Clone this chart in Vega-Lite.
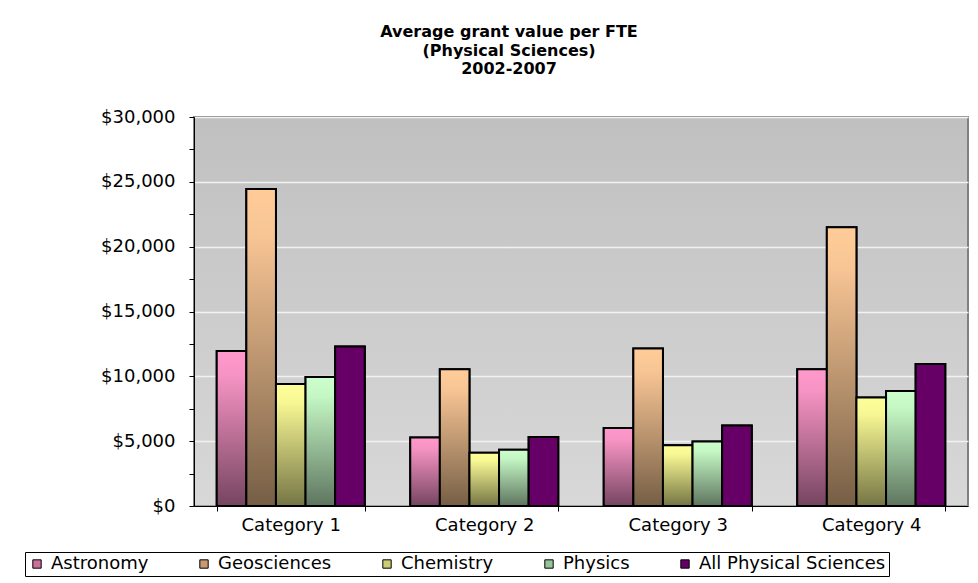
{
  "$schema": "https://vega.github.io/schema/vega-lite/v6.json",
  "autosize": {"type": "none"},
  "width": 774,
  "height": 389,
  "padding": {"left": 194, "top": 117, "right": 10, "bottom": 77},
  "background": "white",
  "title": {
    "text": ["Average grant value per FTE", "(Physical Sciences)", "2002-2007"],
    "font": "DejaVu Sans",
    "fontSize": 16,
    "fontWeight": "bold",
    "lineHeight": 18.5,
    "anchor": "middle",
    "frame": "group",
    "dx": -72,
    "offset": 31,
    "color": "black"
  },
  "data": {
    "values": [
      {"category": "Category 1", "series": "Astronomy", "value": 11950},
      {"category": "Category 1", "series": "Geosciences", "value": 24450},
      {"category": "Category 1", "series": "Chemistry", "value": 9400},
      {"category": "Category 1", "series": "Physics", "value": 9950},
      {"category": "Category 1", "series": "All Physical Sciences", "value": 12300},
      {"category": "Category 2", "series": "Astronomy", "value": 5280},
      {"category": "Category 2", "series": "Geosciences", "value": 10540},
      {"category": "Category 2", "series": "Chemistry", "value": 4100},
      {"category": "Category 2", "series": "Physics", "value": 4330},
      {"category": "Category 2", "series": "All Physical Sciences", "value": 5330},
      {"category": "Category 3", "series": "Astronomy", "value": 6020},
      {"category": "Category 3", "series": "Geosciences", "value": 12150},
      {"category": "Category 3", "series": "Chemistry", "value": 4690},
      {"category": "Category 3", "series": "Physics", "value": 4970},
      {"category": "Category 3", "series": "All Physical Sciences", "value": 6200},
      {"category": "Category 4", "series": "Astronomy", "value": 10540},
      {"category": "Category 4", "series": "Geosciences", "value": 21500},
      {"category": "Category 4", "series": "Chemistry", "value": 8360},
      {"category": "Category 4", "series": "Physics", "value": 8870},
      {"category": "Category 4", "series": "All Physical Sciences", "value": 10950}
    ]
  },
  "view": {
    "fill": {"gradient": "linear", "x1": 0, "y1": 0, "x2": 0, "y2": 1, "stops": [{"offset": 0, "color": "#c0c0c0"}, {"offset": 1, "color": "#d8d8d8"}]},
    "stroke": "#808080",
    "strokeWidth": 2
  },
  "encoding": {
    "x": {
      "field": "category",
      "type": "nominal",
      "scale": {"paddingInner": 0.235, "paddingOuter": 0.1175},
      "axis": {
        "title": null,
        "labelAngle": 0,
        "labelFont": "DejaVu Sans",
        "labelFontSize": 18,
        "labelColor": "black",
        "labelPadding": 5,
        "tickBand": "extent",
        "tickColor": "black",
        "tickSize": 5,
        "domainColor": "black",
        "domainWidth": 1
      }
    },
    "xOffset": {
      "field": "series",
      "type": "nominal",
      "sort": ["Astronomy", "Geosciences", "Chemistry", "Physics", "All Physical Sciences"],
      "scale": {"paddingInner": 0, "paddingOuter": 0}
    },
    "y": {
      "field": "value",
      "type": "quantitative",
      "scale": {"domain": [0, 30000], "nice": false},
      "axis": {
        "title": null,
        "values": [0, 2500, 5000, 7500, 10000, 12500, 15000, 17500, 20000, 22500, 25000, 27500, 30000],
        "format": "$,.0f",
        "labelExpr": "datum.value % 5000 === 0 ? datum.label : ''",
        "labelFont": "DejaVu Sans",
        "labelFontSize": 18,
        "labelColor": "black",
        "labelPadding": 14,
        "tickColor": "black",
        "tickSize": 5,
        "domainColor": "black",
        "domainWidth": 1,
        "grid": true,
        "gridColor": "#f2f2f2",
        "gridWidth": 1.5,
        "gridOpacity": {"condition": {"test": "datum.value % 5000 !== 0", "value": 0}, "value": 1}
      }
    }
  },
  "layer": [
    {
      "mark": {"type": "bar", "stroke": "black", "strokeWidth": 2},
      "encoding": {
        "fill": {
          "field": "series",
          "type": "nominal",
          "scale": {
            "domain": ["Astronomy", "Geosciences", "Chemistry", "Physics", "All Physical Sciences"],
            "range": ["#cc6f9d", "#c79a72", "#cccc72", "#96c49a", "#660066"]
          },
          "legend": {
            "title": null,
            "orient": "none",
            "legendX": -169,
            "legendY": 435,
            "direction": "horizontal",
            "columns": 5,
            "columnPadding": 46,
            "symbolType": "square",
            "symbolSize": 70,
            "symbolStrokeColor": "black",
            "symbolStrokeWidth": 1,
            "labelFont": "DejaVu Sans",
            "labelFontSize": 18,
            "labelColor": "black",
            "labelOffset": 5,
            "labelLimit": 400,
            "strokeColor": "black",
            "fillColor": "white",
            "padding": 3
          }
        }
      }
    },
    {
      "mark": {"type": "bar", "stroke": "black", "strokeWidth": 2},
      "encoding": {
        "fill": {
          "condition": [
            {"test": "datum.series === 'Astronomy'", "value": {"gradient": "linear", "x1": 0, "y1": 0, "x2": 0, "y2": 1, "stops": [{"offset": 0, "color": "#ff99cc"}, {"offset": 0.15, "color": "#f794c4"}, {"offset": 1, "color": "#754560"}]}},
            {"test": "datum.series === 'Geosciences'", "value": {"gradient": "linear", "x1": 0, "y1": 0, "x2": 0, "y2": 1, "stops": [{"offset": 0, "color": "#ffcc99"}, {"offset": 0.15, "color": "#f7c494"}, {"offset": 1, "color": "#755e45"}]}},
            {"test": "datum.series === 'Chemistry'", "value": {"gradient": "linear", "x1": 0, "y1": 0, "x2": 0, "y2": 1, "stops": [{"offset": 0, "color": "#ffff99"}, {"offset": 0.15, "color": "#f7f794"}, {"offset": 1, "color": "#757545"}]}},
            {"test": "datum.series === 'Physics'", "value": {"gradient": "linear", "x1": 0, "y1": 0, "x2": 0, "y2": 1, "stops": [{"offset": 0, "color": "#ccffcc"}, {"offset": 0.15, "color": "#c4f7c4"}, {"offset": 1, "color": "#5e755f"}]}}
          ],
          "value": "#660066"
        }
      }
    }
  ]
}
